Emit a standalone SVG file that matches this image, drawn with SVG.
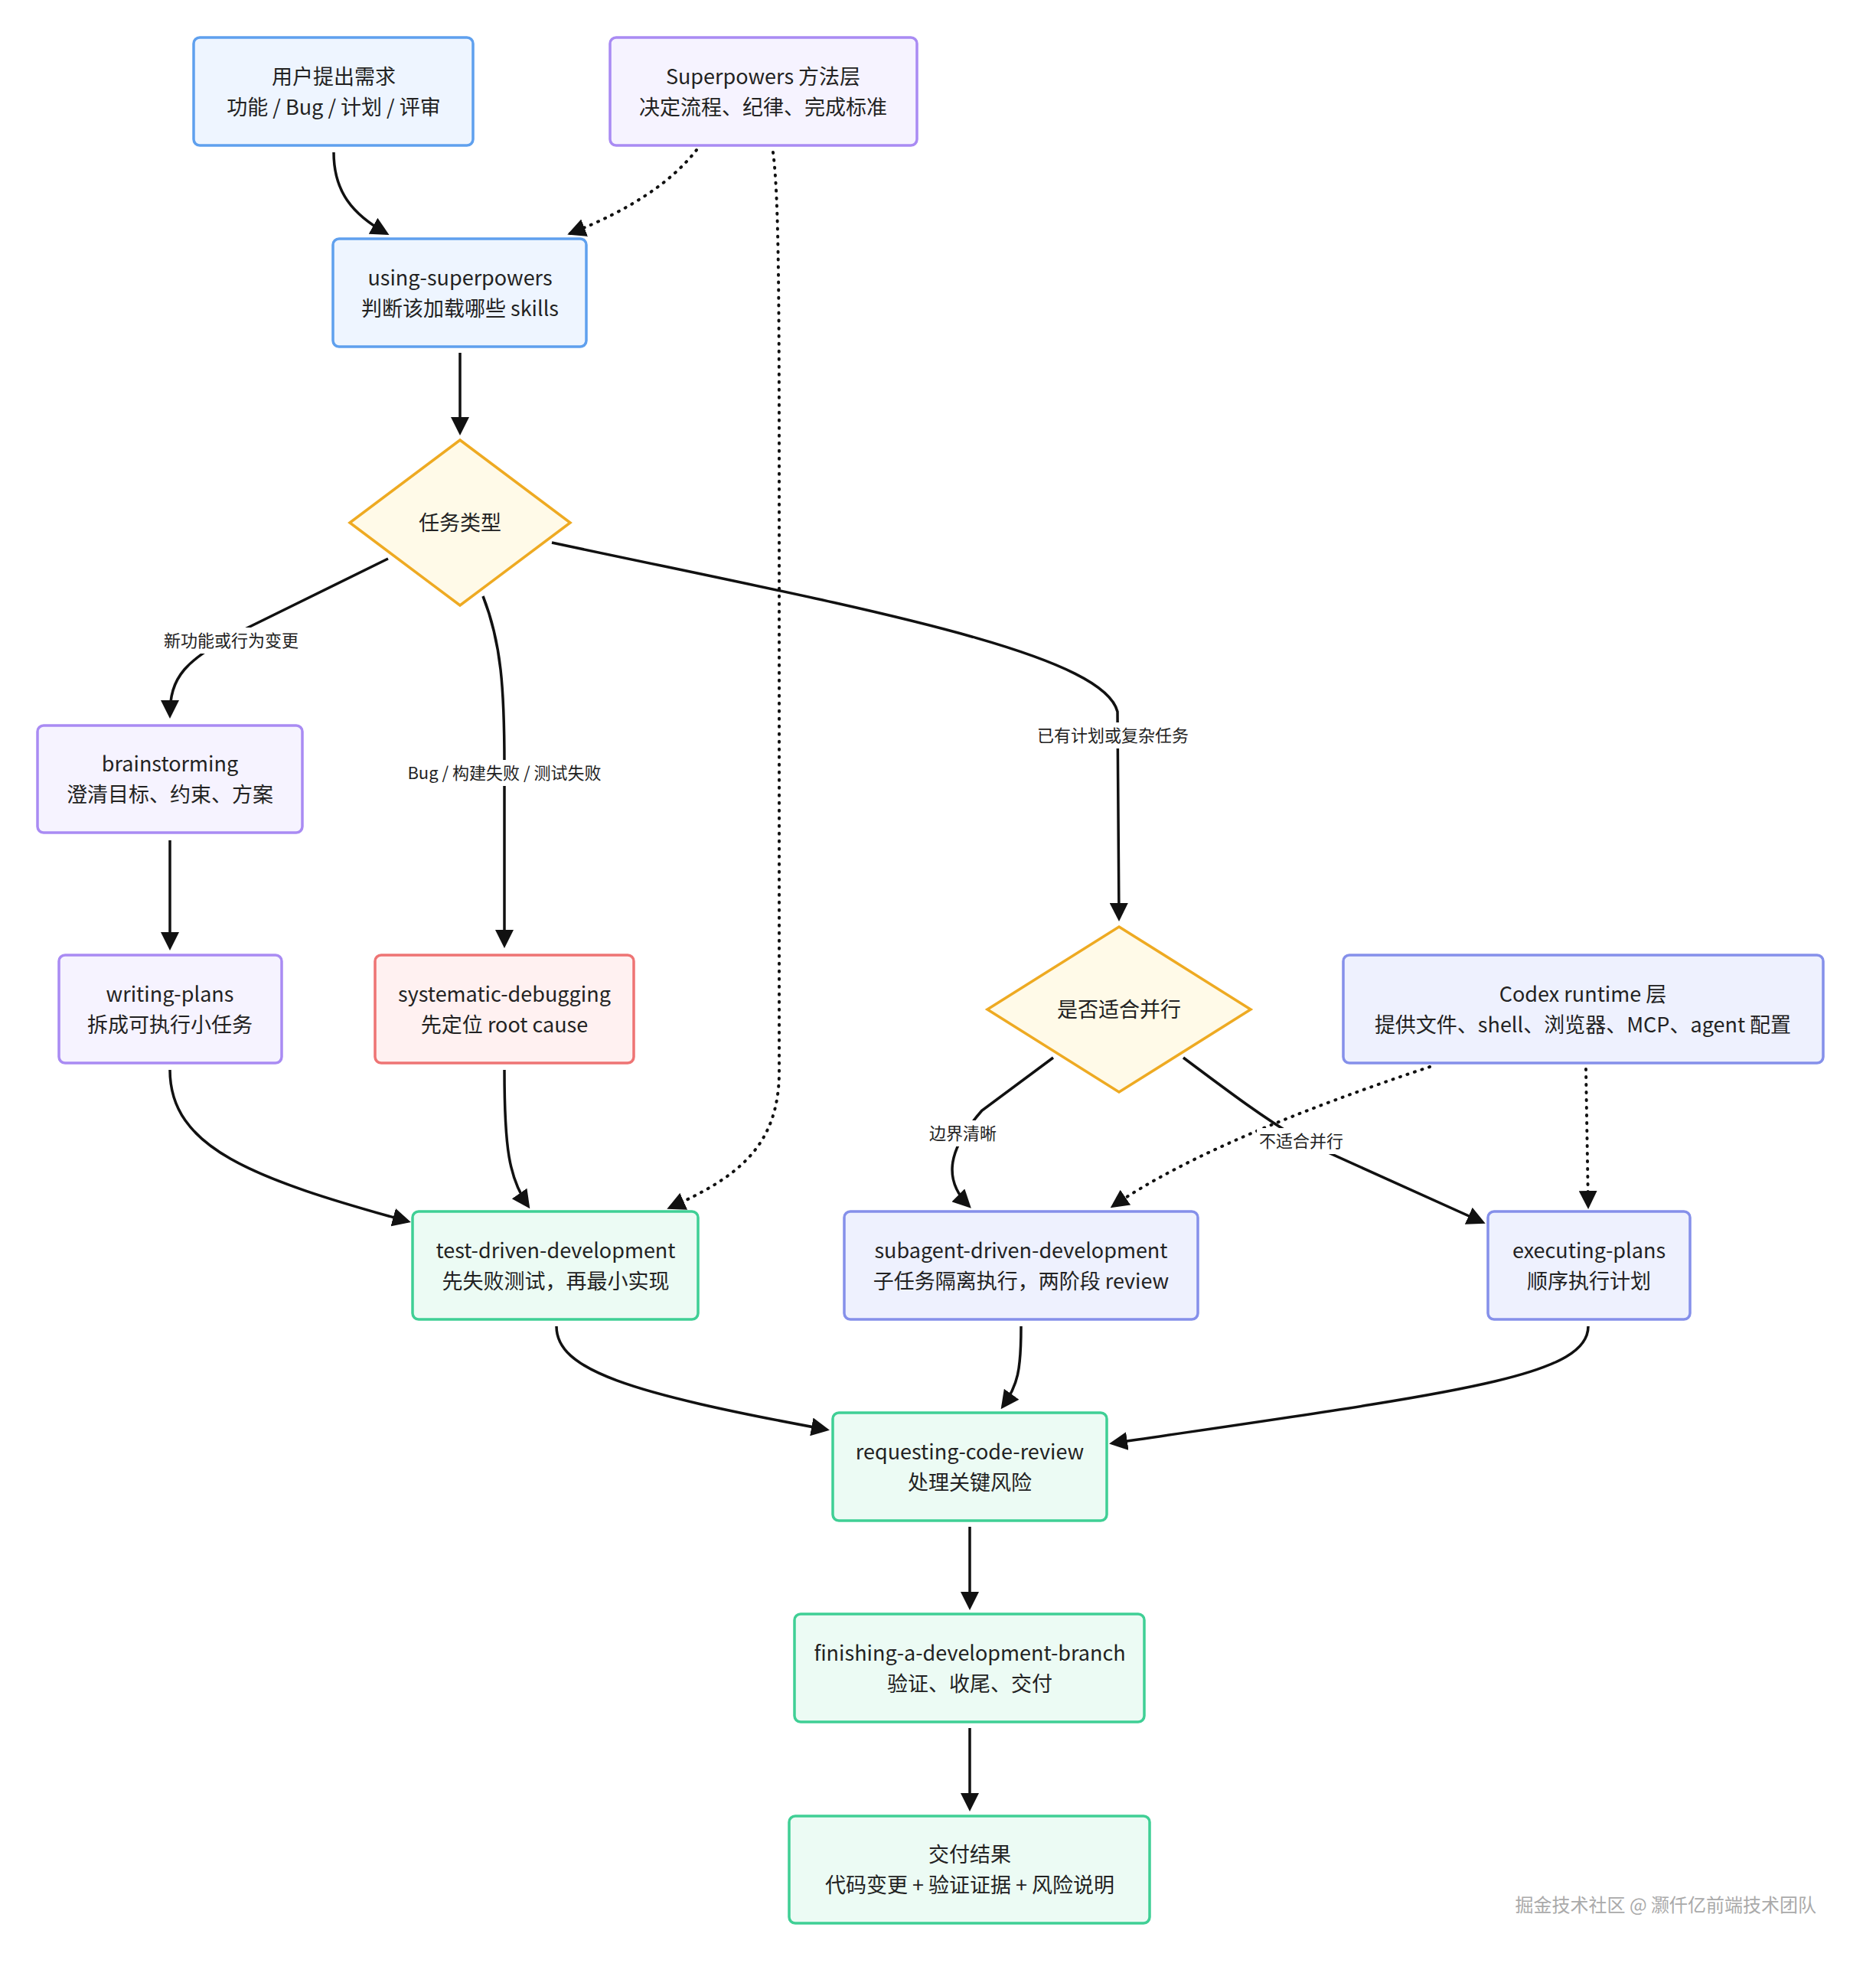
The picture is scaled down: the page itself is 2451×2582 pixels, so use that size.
<svg xmlns="http://www.w3.org/2000/svg" width="2451" height="2582" viewBox="0 0 2451 2582">
<style>
text{font-family:"Noto Sans CJK SC","Noto Sans",sans-serif;fill:#222;text-anchor:middle}
.t{font-size:27px}
.l{font-size:22px}
.blue{fill:#eef5ff;stroke:#5fa0ee;stroke-width:3.5}
.pur{fill:#f6f3ff;stroke:#a98bf3;stroke-width:3.5}
.ind{fill:#eef1fe;stroke:#8590ea;stroke-width:3.5}
.red{fill:#fff1f1;stroke:#ee7474;stroke-width:3.5}
.grn{fill:#ecfbf4;stroke:#3fcf95;stroke-width:3.5}
.dia{fill:#fffae8;stroke:#eeaa22;stroke-width:3.5}
.e{fill:none;stroke:#111;stroke-width:3.5;marker-end:url(#a)}
.d{stroke-dasharray:1 9;stroke-linecap:round;stroke-width:4}
.lb{fill:#fff}
</style>
<defs><marker id="a" markerUnits="userSpaceOnUse" markerWidth="24" markerHeight="24" viewBox="0 0 12 12" refX="10" refY="6" orient="auto"><path d="M0,0 L12,6 L0,12 z" fill="#111"/></marker></defs>
<rect width="2451" height="2582" fill="#fff"/>
<g id="edges">
<path class="e" d="M436,199 C436,250 460,280 505,305"/>
<path class="e d" d="M910,196 Q860,260 745,305"/>
<path class="e d" d="M1010,199 C1018,260 1018,400 1018,700 L1018,1400 C1018,1500 960,1540 875,1578"/>
<path class="e" d="M601,461 L601,565"/>
<path class="e" d="M507,730 L320,822 C240,862 222,885 222,935"/>
<path class="e" d="M631,779 C655,840 659,900 659,1000 L659,1235"/>
<path class="e" d="M721,709 C1100,790 1440,850 1460,930 L1462,1200"/>
<path class="e" d="M222,1098 L222,1238"/>
<path class="e" d="M222,1398 C222,1500 330,1540 533,1596"/>
<path class="e" d="M659,1398 C659,1500 665,1540 690,1576"/>
<path class="e" d="M1376,1382 L1283,1451 C1240,1500 1230,1540 1266,1576"/>
<path class="e d" d="M1868,1394 C1700,1450 1550,1510 1454,1576"/>
<path class="e" d="M1546,1382 C1610,1430 1650,1460 1700,1490 L1937,1597"/>
<path class="e d" d="M2072,1397 L2075,1576"/>
<path class="e" d="M727,1733 C727,1790 820,1820 1080,1868"/>
<path class="e" d="M1334,1733 C1334,1790 1330,1810 1310,1838"/>
<path class="e" d="M2075,1733 C2075,1800 1900,1820 1453,1886"/>
<path class="e" d="M1267,1995 L1267,2100"/>
<path class="e" d="M1267,2258 L1267,2363"/>
<rect class="lb" x="200" y="820" width="204" height="34"/><text class="l" x="302" y="845">新功能或行为变更</text>
<rect class="lb" x="515" y="993" width="290" height="34"/><text class="l" x="659" y="1018">Bug / 构建失败 / 测试失败</text>
<rect class="lb" x="1342" y="944" width="224" height="34"/><text class="l" x="1454" y="969">已有计划或复杂任务</text>
<rect class="lb" x="1205" y="1464" width="106" height="34"/><text class="l" x="1258" y="1489">边界清晰</text>
<rect class="lb" x="1642" y="1474" width="116" height="34"/><text class="l" x="1700" y="1499">不适合并行</text>
</g>
<g id="user"><rect class="blue" x="253" y="49" width="365" height="141" rx="8"/><text class="t" x="436" y="110">用户提出需求</text><text class="t" x="436" y="150">功能 / Bug / 计划 / 评审</text></g>
<g id="superpowers"><rect class="pur" x="797" y="49" width="401" height="141" rx="8"/><text class="t" x="997" y="110">Superpowers 方法层</text><text class="t" x="997" y="150">决定流程、纪律、完成标准</text></g>
<g id="using"><rect class="blue" x="435" y="312" width="331" height="141" rx="8"/><text class="t" x="601" y="373">using-superpowers</text><text class="t" x="601" y="413">判断该加载哪些 skills</text></g>
<g id="tasktype"><polygon class="dia" points="601,575 745,683 601,791 457,683"/><text class="t" x="601" y="693">任务类型</text></g>
<g id="brainstorming"><rect class="pur" x="49" y="948" width="346" height="140" rx="8"/><text class="t" x="222" y="1008">brainstorming</text><text class="t" x="222" y="1048">澄清目标、约束、方案</text></g>
<g id="writing"><rect class="pur" x="77" y="1248" width="291" height="141" rx="8"/><text class="t" x="222" y="1309">writing-plans</text><text class="t" x="222" y="1349">拆成可执行小任务</text></g>
<g id="debug"><rect class="red" x="490" y="1248" width="338" height="141" rx="8"/><text class="t" x="659" y="1309">systematic-debugging</text><text class="t" x="659" y="1349">先定位 root cause</text></g>
<g id="parallel"><polygon class="dia" points="1462,1211 1634,1319 1462,1427 1290,1319"/><text class="t" x="1462" y="1329">是否适合并行</text></g>
<g id="codex"><rect class="ind" x="1755" y="1248" width="627" height="141" rx="8"/><text class="t" x="2068" y="1309">Codex runtime 层</text><text class="t" x="2068" y="1349">提供文件、shell、浏览器、MCP、agent 配置</text></g>
<g id="tdd"><rect class="grn" x="539" y="1583" width="373" height="141" rx="8"/><text class="t" x="726" y="1644">test-driven-development</text><text class="t" x="726" y="1684">先失败测试，再最小实现</text></g>
<g id="subagent"><rect class="ind" x="1103" y="1583" width="462" height="141" rx="8"/><text class="t" x="1334" y="1644">subagent-driven-development</text><text class="t" x="1334" y="1684">子任务隔离执行，两阶段 review</text></g>
<g id="executing"><rect class="ind" x="1944" y="1583" width="264" height="141" rx="8"/><text class="t" x="2076" y="1644">executing-plans</text><text class="t" x="2076" y="1684">顺序执行计划</text></g>
<g id="review"><rect class="grn" x="1088" y="1846" width="358" height="141" rx="8"/><text class="t" x="1267" y="1907">requesting-code-review</text><text class="t" x="1267" y="1947">处理关键风险</text></g>
<g id="finishing"><rect class="grn" x="1038" y="2109" width="457" height="141" rx="8"/><text class="t" x="1267" y="2170">finishing-a-development-branch</text><text class="t" x="1267" y="2210">验证、收尾、交付</text></g>
<g id="result"><rect class="grn" x="1031" y="2373" width="471" height="140" rx="8"/><text class="t" x="1267" y="2433">交付结果</text><text class="t" x="1267" y="2473">代码变更 + 验证证据 + 风险说明</text></g>
<text x="2373" y="2498" style="font-size:24px;fill:#aaa;text-anchor:end">掘金技术社区 @ 灏仟亿前端技术团队</text>
</svg>
